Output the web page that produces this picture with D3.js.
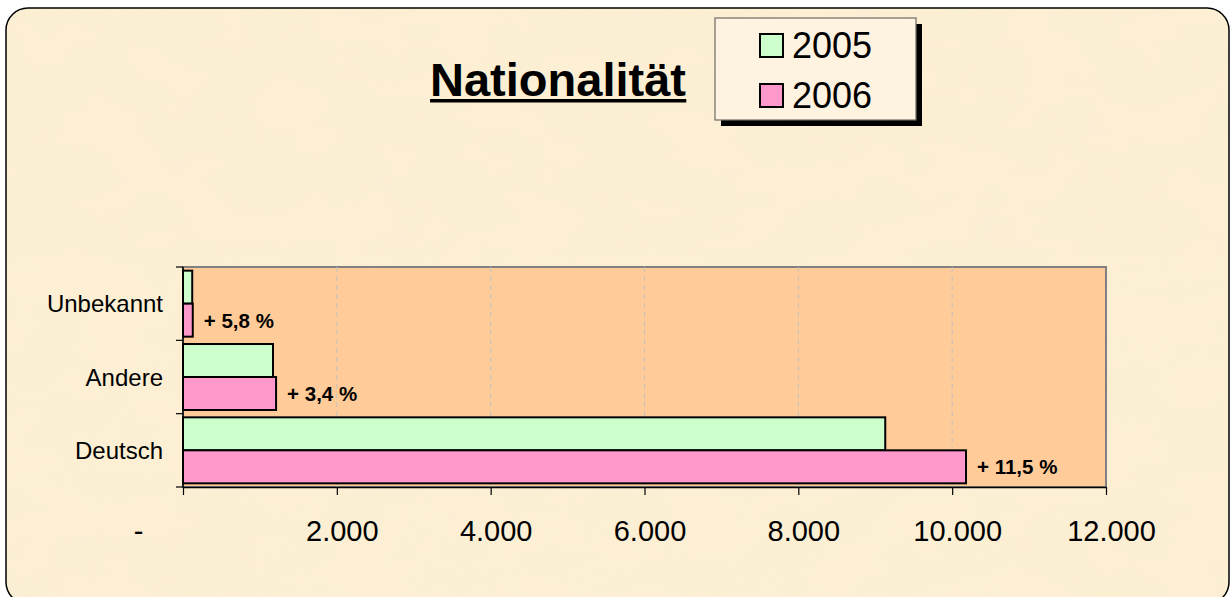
<!DOCTYPE html>
<html>
<head>
<meta charset="utf-8">
<script src="https://cdn.jsdelivr.net/npm/d3@7"></script>
<style>
  html, body { margin: 0; padding: 0; background: #fff; }
  svg { display: block; font-family: "Liberation Sans", Arial, sans-serif; }
</style>
</head>
<body>
<div id="container"></div>
<script>
/* DATA */
const categories = ["Unbekannt", "Andere", "Deutsch"];
const years = ["2005", "2006"];
const values2005 = [120, 1170, 9130];
const values2006 = [127, 1210, 10180];
const xTicks = [0, 2000, 4000, 6000, 8000, 10000, 12000];

const colors = {"2005": "#CCFFCC", "2006": "#FF99CC"};

/* SIZES */
const W = 1232, H = 597;
const plot = {left: 183, right: 1106, top: 267, bottom: 487};

const svg = d3.select("#container").append("svg")
    .attr("width", W)
    .attr("height", H);

/* BACKGROUND (parchment) */
const defs = svg.append("defs");
const filt = defs.append("filter").attr("id", "paper")
    .attr("x", 0).attr("y", 0).attr("width", "100%").attr("height", "100%");
filt.append("feTurbulence")
    .attr("type", "fractalNoise")
    .attr("baseFrequency", "0.012 0.02")
    .attr("numOctaves", 3)
    .attr("seed", 7);
filt.append("feColorMatrix")
    .attr("type", "matrix")
    .attr("values", "0 0 0 0 0.95  0 0 0 0 0.86  0 0 0 0 0.62  1.6 0 0 0 -0.68");

defs.append("clipPath").attr("id", "frame")
  .append("rect")
    .attr("x", 6).attr("y", 8)
    .attr("width", 1223).attr("height", 596)
    .attr("rx", 22);

const bg = svg.append("g").attr("clip-path", "url(#frame)");
bg.append("rect")
    .attr("x", 0).attr("y", 0).attr("width", W).attr("height", H)
    .attr("fill", "#FCEFD4");
bg.append("rect")
    .attr("x", 0).attr("y", 0).attr("width", W).attr("height", H)
    .attr("filter", "url(#paper)")
    .attr("opacity", 0.6);

svg.append("rect")
    .attr("x", 6).attr("y", 8)
    .attr("width", 1223).attr("height", 596)
    .attr("rx", 22)
    .attr("fill", "none")
    .attr("stroke", "#000")
    .attr("stroke-width", 1.5);

/* SCALES */
const x = d3.scaleLinear().domain([0, 12000]).range([plot.left, plot.right]);
const y = d3.scaleBand().domain(categories).range([plot.top, plot.bottom])
    .paddingInner(0.1).paddingOuter(0.05);
const ySub = d3.scaleBand().domain(years).range([0, y.bandwidth()]);

const de = d3.formatLocale({decimal: ",", thousands: ".", grouping: [3], currency: ["", " €"]});
const fmtNum = de.format(",.0f");
const fmtPct = de.format(".1f");

/* PLOT AREA */
svg.append("rect")
    .attr("x", plot.left).attr("y", plot.top)
    .attr("width", plot.right - plot.left)
    .attr("height", plot.bottom - plot.top)
    .attr("fill", "#FFCC99")
    .attr("stroke", "#808080")
    .attr("stroke-width", 2);

/* GRIDLINES */
svg.append("g")
  .selectAll("line")
  .data(xTicks.slice(1, -1))
  .join("line")
    .attr("x1", d => x(d)).attr("x2", d => x(d))
    .attr("y1", plot.top).attr("y2", plot.bottom)
    .attr("stroke", "#C4C0BC")
    .attr("stroke-width", 1)
    .attr("stroke-dasharray", "5,4");

/* BARS */
const rows = categories.map((c, i) => ({cat: c, "2005": values2005[i], "2006": values2006[i]}));

const groups = svg.append("g")
  .selectAll("g")
  .data(rows)
  .join("g")
    .attr("transform", d => "translate(0," + y(d.cat) + ")");

groups.selectAll("rect")
  .data(d => years.map(yr => ({year: yr, value: d[yr]})))
  .join("rect")
    .attr("x", x(0))
    .attr("y", d => ySub(d.year))
    .attr("width", d => x(d.value) - x(0))
    .attr("height", ySub.bandwidth())
    .attr("fill", d => colors[d.year])
    .attr("stroke", "#000")
    .attr("stroke-width", 2);

/* CHANGE LABELS */
groups.append("text")
    .attr("x", d => x(d["2006"]) + 11)
    .attr("y", ySub("2006") + ySub.bandwidth() / 2)
    .attr("dy", "0.36em")
    .style("font-size", "20.5px")
    .style("font-weight", "bold")
    .text(d => "+ " + fmtPct((d["2006"] / d["2005"] - 1) * 100) + " %");

/* X AXIS */
const xAxis = svg.append("g")
    .attr("transform", "translate(0," + plot.bottom + ")")
    .call(d3.axisBottom(x).tickValues(xTicks).tickSize(8).tickSizeOuter(0)
        .tickFormat(d => d === 0 ? "-" : fmtNum(d)));
xAxis.select(".domain").attr("stroke", "#000").attr("stroke-width", 1.5);
xAxis.selectAll(".tick line").attr("stroke", "#000").attr("stroke-width", 1.2);
xAxis.selectAll(".tick text")
    .attr("y", 54).attr("dy", 0).attr("dx", 5)
    .attr("fill", "#000")
    .style("font-size", "29px")
    .style("font-family", "'Liberation Sans', Arial, sans-serif");
xAxis.selectAll(".tick text").filter(d => d === 0)
    .attr("text-anchor", "end").attr("dx", -40);

/* Y AXIS */
svg.append("line")
    .attr("x1", plot.left).attr("x2", plot.left)
    .attr("y1", plot.top).attr("y2", plot.bottom)
    .attr("stroke", "#000").attr("stroke-width", 1.5);

const bounds = d3.range(categories.length + 1).map(i => plot.top + i * y.step());
svg.append("g")
  .selectAll("line")
  .data(bounds)
  .join("line")
    .attr("x1", plot.left - 7).attr("x2", plot.left)
    .attr("y1", d => d).attr("y2", d => d)
    .attr("stroke", "#000").attr("stroke-width", 1.2);

svg.append("g")
  .selectAll("text")
  .data(categories)
  .join("text")
    .attr("x", 163)
    .attr("y", d => y(d) + y.bandwidth() / 2)
    .attr("dy", "0.36em")
    .attr("text-anchor", "end")
    .style("font-size", "24px")
    .text(d => d);

/* TITLE */
const title = svg.append("text")
    .attr("x", 558).attr("y", 96)
    .attr("text-anchor", "middle")
    .style("font-size", "47px")
    .style("font-weight", "bold")
    .text("Nationalität");
const tb = title.node().getBBox();
svg.append("rect")
    .attr("x", tb.x).attr("y", 99)
    .attr("width", tb.width).attr("height", 3.5)
    .attr("fill", "#000");

/* LEGEND */
const legend = svg.append("g").attr("transform", "translate(715,18)");
legend.append("rect")
    .attr("x", 6).attr("y", 6).attr("width", 201).attr("height", 102)
    .attr("fill", "#000");
legend.append("rect")
    .attr("x", 0).attr("y", 0).attr("width", 201).attr("height", 102)
    .attr("fill", "#FDF3E0")
    .attr("stroke", "#6E6A66")
    .attr("stroke-width", 1.2);

const items = legend.selectAll("g.item")
  .data(years)
  .join("g")
    .attr("class", "item")
    .attr("transform", (d, i) => "translate(0," + (i * 50) + ")");
items.append("rect")
    .attr("x", 45).attr("y", 16).attr("width", 23).attr("height", 23)
    .attr("fill", d => colors[d])
    .attr("stroke", "#000")
    .attr("stroke-width", 2);
items.append("text")
    .attr("x", 77).attr("y", 40)
    .style("font-size", "36px")
    .text(d => d);
</script>
</body>
</html>
